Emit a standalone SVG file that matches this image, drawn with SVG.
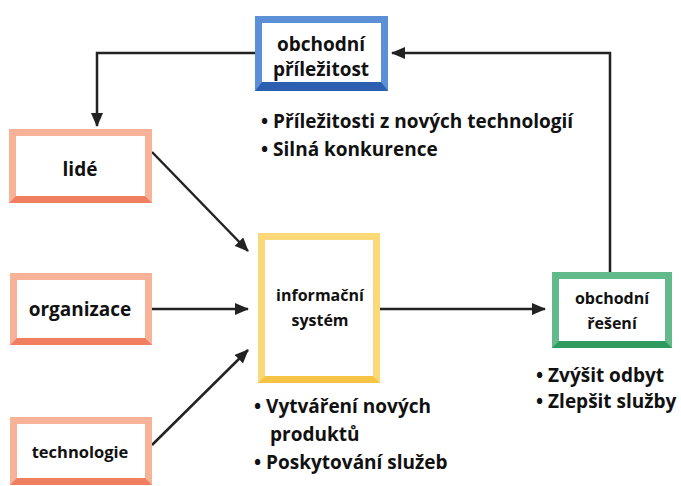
<svg xmlns="http://www.w3.org/2000/svg" width="681" height="486" viewBox="0 0 681 486">
<style>
.t{font-family:"Open Sans","Liberation Sans",sans-serif;font-weight:bold;fill:#111;}
.c{text-anchor:middle;}
.b{font-size:19px;}
.ln{stroke:#222;stroke-width:2.5;fill:none;}
</style>
<defs>
<marker id="ah" viewBox="0 0 14 12" refX="13" refY="6" markerWidth="14" markerHeight="12" markerUnits="userSpaceOnUse" orient="auto">
<path d="M0,0 L14,6 L0,12 Z" fill="#222"/>
</marker>
</defs>
<rect width="681" height="486" fill="#fff"/>
<g id="connectors">
<path class="ln" d="M152,152 L248,251" marker-end="url(#ah)"/>
<path class="ln" d="M152,309 L248,309" marker-end="url(#ah)"/>
<path class="ln" d="M152,445 L248,350" marker-end="url(#ah)"/>
<path class="ln" d="M380,309 L545,309" marker-end="url(#ah)"/>
<path class="ln" d="M610,272 L610,53 L392,53" marker-end="url(#ah)"/>
<path class="ln" d="M255,53 L97,53 L97,126" marker-end="url(#ah)"/>
</g>
<g id="prilezitost">
<rect x="255" y="16" width="133" height="75" fill="#5b8fd6"/>
<polygon points="255,91 388,91 381,82 262,82" fill="#2c5fb0"/>
<rect x="262" y="23" width="119" height="59" fill="#fff"/>
<text class="t c" x="321" y="51" font-size="19">obchodní</text>
<text class="t c" x="321" y="76" font-size="19">příležitost</text>
</g>
<g id="lide">
<rect x="9" y="129" width="143" height="74" fill="#f7b298"/>
<polygon points="9,203 152,203 145,196 16,196" fill="#f07e60"/>
<rect x="16" y="136" width="129" height="60" fill="#fff"/>
<text class="t c" x="80" y="176" font-size="19">lidé</text>
</g>
<g id="organizace">
<rect x="10" y="273" width="142" height="72" fill="#f7b298"/>
<polygon points="10,345 152,345 145,338 17,338" fill="#f07e60"/>
<rect x="17" y="280" width="128" height="58" fill="#fff"/>
<text class="t c" x="80" y="316" font-size="19">organizace</text>
</g>
<g id="technologie">
<rect x="10" y="417" width="142" height="68" fill="#f7b298"/>
<polygon points="10,485 152,485 145,478 17,478" fill="#f07e60"/>
<rect x="17" y="424" width="128" height="54" fill="#fff"/>
<text class="t c" x="80" y="458" font-size="16.5">technologie</text>
</g>
<g id="informacni-system">
<rect x="258" y="233" width="122" height="150" fill="#fbd978"/>
<polygon points="258,383 380,383 373,376 265,376" fill="#f6c444"/>
<rect x="265" y="240" width="108" height="136" fill="#fff"/>
<text class="t c" x="320" y="301" font-size="16">informační</text>
<text class="t c" x="320" y="326" font-size="16">systém</text>
</g>
<g id="reseni">
<rect x="552" y="272" width="120" height="76" fill="#62b98a"/>
<polygon points="552,348 672,348 665,341 559,341" fill="#2e9a5e"/>
<rect x="559" y="279" width="106" height="62" fill="#fff"/>
<text class="t c" x="612" y="304" font-size="16">obchodní</text>
<text class="t c" x="612" y="329" font-size="16">řešení</text>
</g>
<g id="texts">
<text class="t b" x="261" y="128">• Příležitosti z nových technologií</text>
<text class="t b" x="261" y="156">• Silná konkurence</text>
<text class="t b" x="536" y="382">• Zvýšit odbyt</text>
<text class="t b" x="536" y="408">• Zlepšit služby</text>
<text class="t b" x="254" y="413">• Vytváření nových</text>
<text class="t b" x="270" y="441">produktů</text>
<text class="t b" x="254" y="469">• Poskytování služeb</text>
</g>
</svg>
